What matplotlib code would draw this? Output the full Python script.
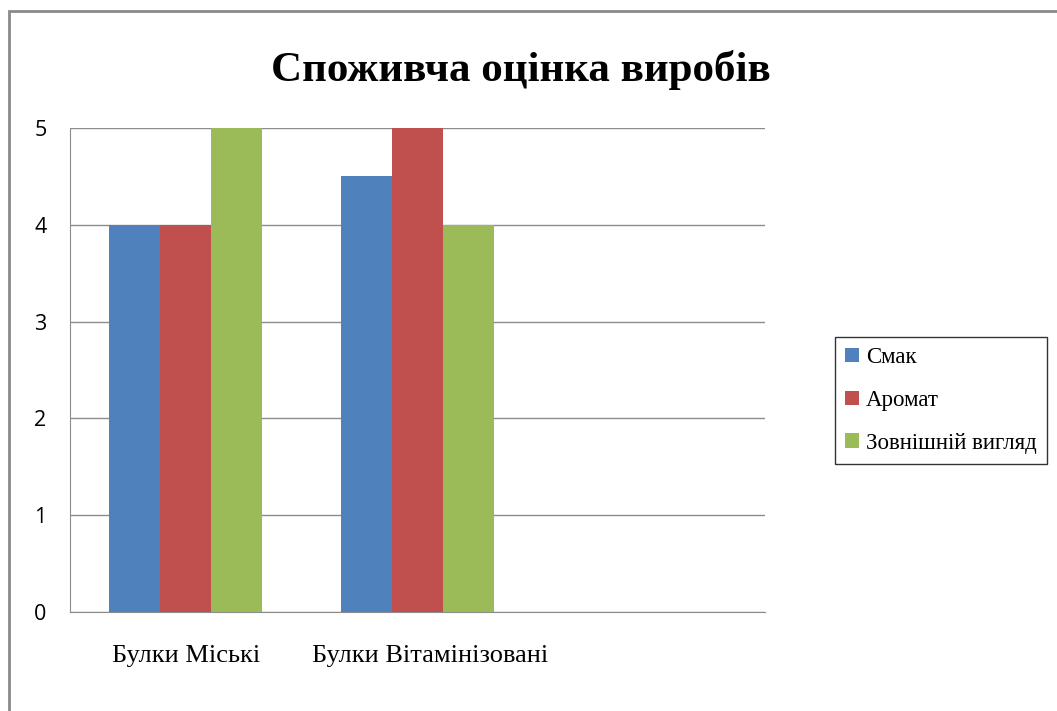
import numpy as np
import matplotlib.pyplot as plt
import matplotlib.transforms as mtransforms
from matplotlib.patches import Rectangle

# chart data
categories = ['Булки Міські', 'Булки Вітамінізовані', '']
series_names = ['Смак', 'Аромат', 'Зовнішній вигляд']
smak = [4, 4.5, np.nan]
aromat = [4, 5, np.nan]
vyglyad = [5, 4, np.nan]
colors = ['#4F81BD', '#C0504D', '#9BBB59']

W, H = 1057, 711
fig = plt.figure(figsize=(W / 100, H / 100), dpi=100)
fig.patch.set_facecolor('white')

# outer chart frame (cut off at right and bottom like the screenshot)
frame = Rectangle((9 / W, -0.05), 1.1, 1 - 11 / H + 0.05, transform=fig.transFigure,
                  fill=False, edgecolor='#8a8a8a', linewidth=2, clip_on=False)
fig.patches.append(frame)

ax = fig.add_axes([70 / W, 1 - 612 / H, (765 - 70) / W, (612 - 128) / H])

x = np.arange(len(categories))
w = 0.22
bars = []
for i, (vals, name) in enumerate(zip([smak, aromat, vyglyad], series_names)):
    b = ax.bar(x + (i - 1) * w, vals, width=w, color=colors[i], label=name, zorder=3)
    bars.append(b)

ax.set_xlim(-0.5, len(categories) - 0.5)
ax.set_ylim(0, 5)
ax.set_yticks(range(0, 6))
ax.set_xticks(x)
ax.set_xticklabels(categories, family='Liberation Serif', fontsize=19)
ax.tick_params(axis='x', length=0, pad=24)
ax.tick_params(axis='y', length=0, pad=17, labelsize=15.5)
for lab in ax.get_yticklabels():
    lab.set_family('Open Sans')

# long label sits a bit right of its slot in the original
xl = ax.get_xticklabels()
xl[1].set_transform(xl[1].get_transform() +
                    mtransforms.ScaledTranslation(13 / 100, 0, fig.dpi_scale_trans))

ax.grid(axis='y', color='#8c8c8c', linewidth=1, zorder=0)
for side in ['top', 'right']:
    ax.spines[side].set_visible(False)
ax.spines['left'].set_color('#8c8c8c')
ax.spines['bottom'].set_color('#8c8c8c')

fig.text(521 / W, 1 - 70 / H, 'Споживча оцінка виробів', ha='center', va='center',
         family='Liberation Serif', fontweight='bold', fontsize=31)

leg = fig.legend(handles=bars, labels=series_names, loc='center left',
                 bbox_to_anchor=(835 / W, 1 - 400.5 / H),
                 prop={'family': 'Liberation Serif', 'size': 16.5},
                 frameon=True, fancybox=False, edgecolor='black',
                 handlelength=0.6, handleheight=0.6, handletextpad=0.3,
                 labelspacing=0.95, borderpad=0.45, borderaxespad=0)
leg.get_frame().set_linewidth(1)

fig.savefig('out.png', dpi=100)
